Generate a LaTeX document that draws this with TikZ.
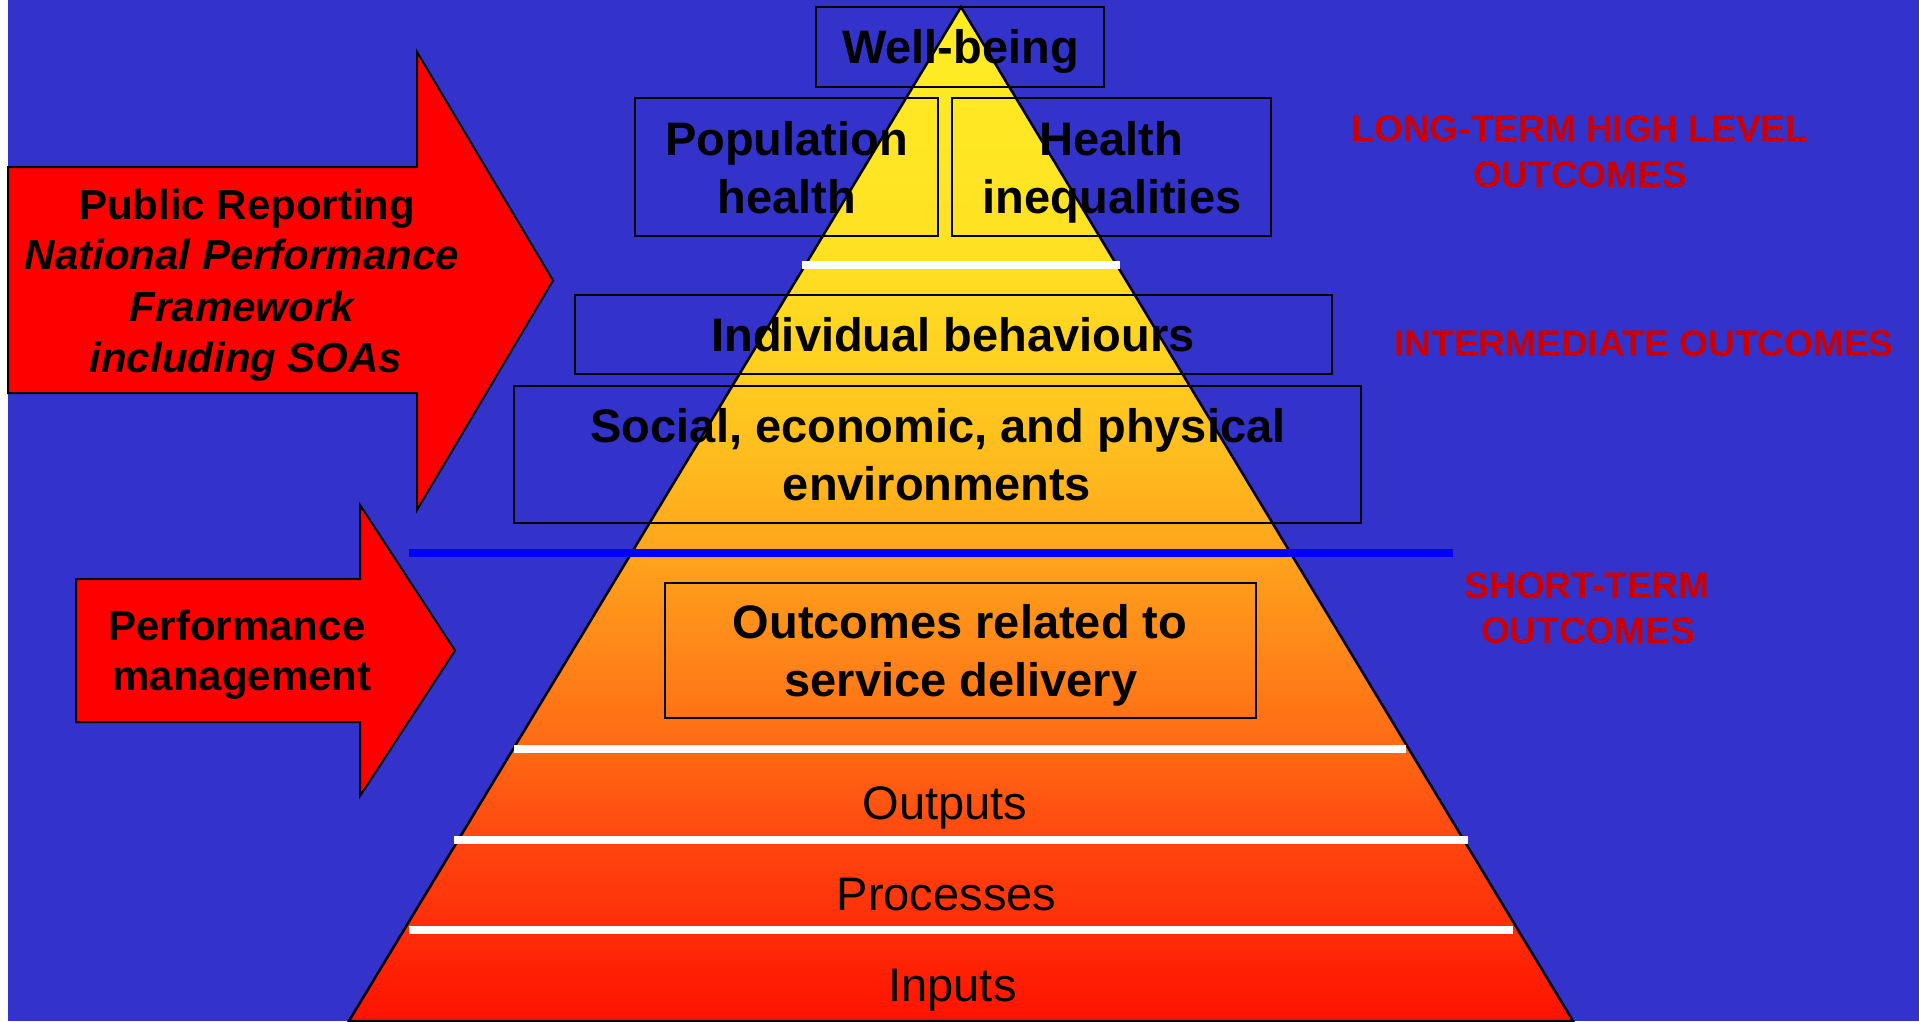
\documentclass[tikz,border=0pt]{standalone}
\usepackage{fontspec}
\setmainfont{Liberation Sans}
\definecolor{bg}{RGB}{51,51,204}
\definecolor{arrowred}{RGB}{255,0,0}
\definecolor{labred}{RGB}{204,0,0}
\definecolor{sepblue}{RGB}{0,0,255}
\definecolor{py0}{RGB}{255,18,0}
\definecolor{py1}{RGB}{255,45,8}
\definecolor{py2}{RGB}{255,70,15}
\definecolor{py3}{RGB}{255,105,20}
\definecolor{py4}{RGB}{255,135,25}
\definecolor{py5}{RGB}{255,165,28}
\definecolor{py6}{RGB}{255,190,30}
\definecolor{py7}{RGB}{255,210,32}
\definecolor{py8}{RGB}{255,225,35}
\definecolor{py9}{RGB}{255,238,35}
\pgfdeclareverticalshading{pyrshade}{100bp}{color(0bp)=(py0); color(25bp)=(py0); color(29.49bp)=(py1); color(33.9bp)=(py2); color(38.4bp)=(py3); color(43.3bp)=(py4); color(48.2bp)=(py5); color(53.2bp)=(py6); color(58.1bp)=(py7); color(63bp)=(py8); color(75bp)=(py9); color(100bp)=(py9)}
\begin{document}
\begin{tikzpicture}[x=1pt,y=-1pt,
  box/.style={draw=black, line width=2.7pt, inner sep=0pt, fill=none},
  big/.style={font=\fontsize{47}{56}\selectfont\bfseries, text=black, inner sep=0pt, anchor=base},
  plain/.style={font=\fontsize{47}{56}\selectfont, text=black, inner sep=0pt, anchor=base},
  arrtxt/.style={font=\fontsize{42}{50}\selectfont\bfseries, text=black, inner sep=0pt, anchor=base},
  arrit/.style={font=\fontsize{42}{50}\selectfont\bfseries\itshape, text=black, inner sep=0pt, anchor=base},
  redlab/.style={font=\fontsize{37}{45}\selectfont\bfseries, text=labred, inner sep=0pt, anchor=base},
  wline/.style={draw=white, line width=7.7pt},
  arrowshape/.style={fill=arrowred, draw=black, line width=2pt, line join=miter}
]
\useasboundingbox (0,0) rectangle (1919,1021);
\fill[white] (0,0) rectangle (1919,1021);
\fill[bg] (8,0) rectangle (1919,1021);

% pyramid
\coordinate (apex) at (961,7);
\coordinate (bl) at (349,1021);
\coordinate (br) at (1573,1021);
\shade[shading=pyrshade] (apex) -- (br) -- (bl) -- cycle;
\draw[black, line width=2.5pt, line join=miter] (apex) -- (br) -- (bl) -- cycle;

% white separators
\draw[wline] (802,265) -- (1120,265);
\draw[wline] (514,749) -- (1406,749);
\draw[wline] (454,840) -- (1468,840);
\draw[wline] (409,930) -- (1513,930);

% blue separator
\draw[draw=sepblue, line width=7.7pt] (409,553) -- (1453,553);

% boxes
\node[box, minimum width=288pt, minimum height=80pt] (wb) at (960,47) {};
\node[box, minimum width=303pt, minimum height=138pt] (ph) at (786.5,167) {};
\node[box, minimum width=319pt, minimum height=138pt] (hi) at (1111.5,167) {};
\node[box, minimum width=757pt, minimum height=79pt] (ib) at (953.5,334.5) {};
\node[box, minimum width=847pt, minimum height=137pt] (se) at (937.5,454.5) {};
\node[box, minimum width=591pt, minimum height=135pt] (oc) at (960.5,650.5) {};

% box texts
\node[big] (twb) at (960.5,63.8) {Well-being};
\node[big] (tph1) at (786.5,155) {Population};
\node[big] (tph2) at (786.5,213) {health};
\node[big] (thi1) at (1111.5,155) {Health};
\node[big] (thi2) at (1112,213) {inequalities};
\node[big] (tib) at (953,351.5) {Individual behaviours};
\node[big] (tse1) at (938,442.5) {Social, economic, and physical};
\node[big] (tse2) at (937,500.5) {environments};
\node[big] (toc1) at (960,638.5) {Outcomes related to};
\node[big] (toc2) at (961,696.5) {service delivery};

% band texts
\node[plain] (tout) at (945,819.3) {Outputs};
\node[plain] (tproc) at (946.5,910) {Processes};
\node[plain] (tinp) at (952.5,1001) {Inputs};

% big arrow
\draw[arrowshape] (8,167) -- (417,167) -- (417,52) -- (553,280.5) -- (417,510) -- (417,393) -- (8,393) -- cycle;
\node[arrtxt] (pr1) at (247,219) {Public Reporting};
\node[arrit] (pr2) at (242,269) {National Performance};
\node[arrit] (pr3) at (242,321) {Framework};
\node[arrit] (pr4) at (246,372) {including SOAs};

% small arrow
\draw[arrowshape] (76,579) -- (360,579) -- (360,505) -- (455,650.5) -- (360,796) -- (360,722) -- (76,722) -- cycle;
\node[arrtxt] (pm1) at (237,640.7) {Performance};
\node[arrtxt] (pm2) at (242,690.7) {management};

% red labels
\node[redlab] (lt1) at (1580,141) {LONG-TERM HIGH LEVEL};
\node[redlab] (lt2) at (1580,187) {OUTCOMES};
\node[redlab] (im) at (1644,356) {INTERMEDIATE OUTCOMES};
\node[redlab] (st1) at (1587,598.5) {SHORT-TERM};
\node[redlab] (st2) at (1588,643) {OUTCOMES};
\end{tikzpicture}
\end{document}
